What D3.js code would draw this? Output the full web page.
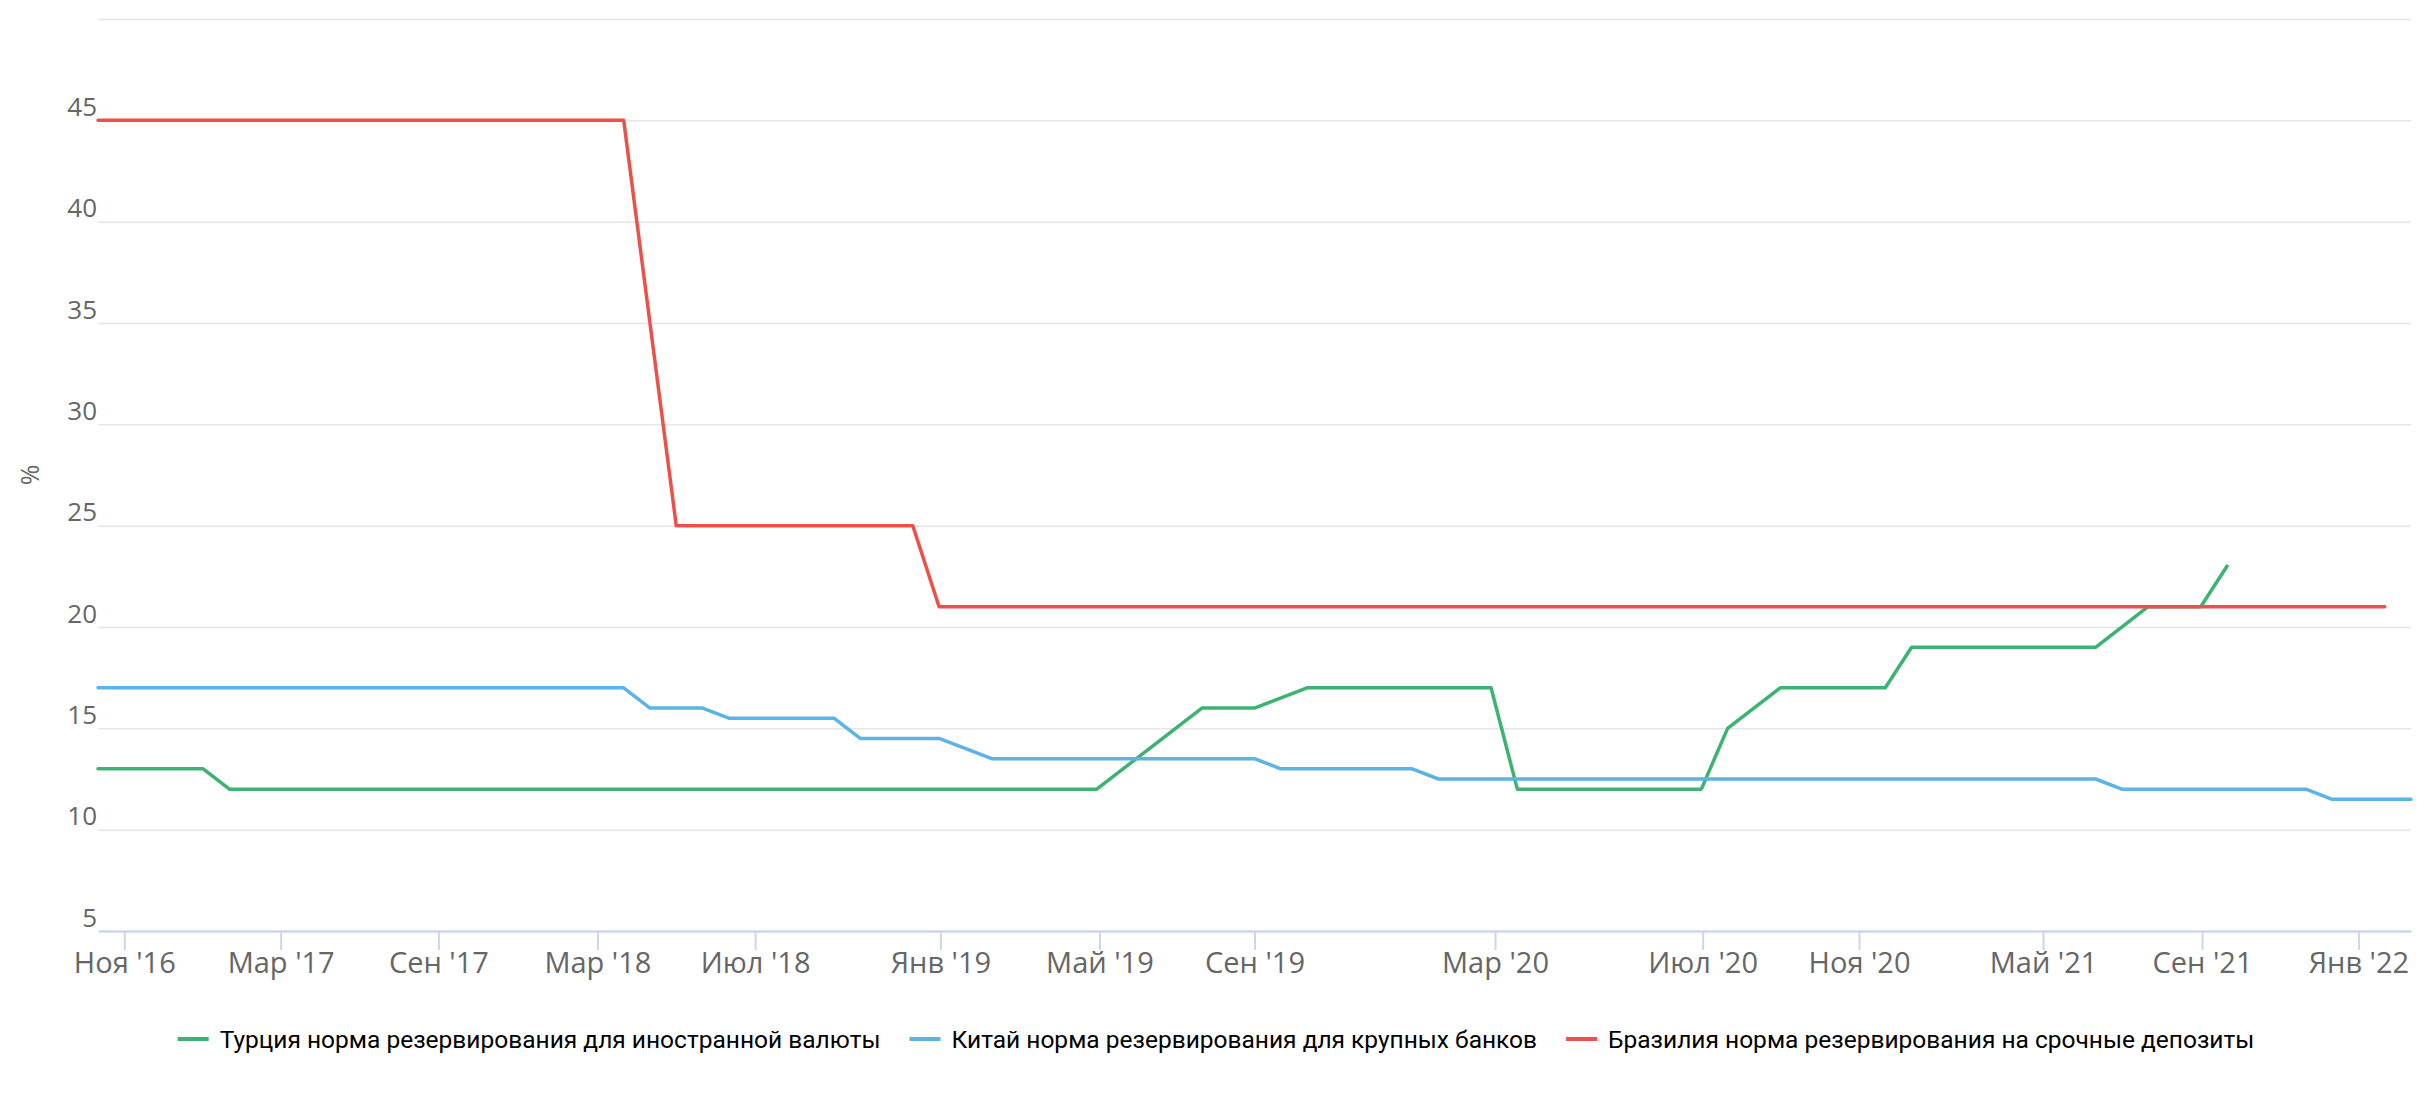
<!DOCTYPE html>
<html>
<head>
<meta charset="utf-8">
<script src="https://cdn.jsdelivr.net/npm/d3@7"></script>
<style>
  html, body { margin: 0; padding: 0; background: #fff; }
  svg { display: block; }
</style>
</head>
<body>
<svg id="chart" width="2432" height="1100"></svg>
<script>
// ---- data (x = position of the observation on the ordinal time axis) ----
const seriesNames = [
  "Турция норма резервирования для иностранной валюты",
  "Китай норма резервирования для крупных банков",
  "Бразилия норма резервирования на срочные депозиты"
];
const turkey = [[0,13],[4,13],[5,12],[38,12],[42,16],[44,16],[46,17],[53,17],[54,12],[61,12],[62,15],[64,17],[68,17],[69,19],[76,19],[78,21],[80,21],[81,23]];
const china  = [[0,17],[20,17],[21,16],[23,16],[24,15.5],[28,15.5],[29,14.5],[32,14.5],[34,13.5],[44,13.5],[45,13],[50,13],[51,12.5],[76,12.5],[77,12],[84,12],[85,11.5],[88,11.5]];
const brazil = [[0,45],[20,45],[22,25],[31,25],[32,21],[87,21]];
const xTickPositions = [1, 6.95, 12.95, 19, 25, 32.05, 38.1, 44, 53.15, 61.05, 67, 74, 80.05, 86];
const xTickLabels = ["Ноя '16","Мар '17","Сен '17","Мар '18","Июл '18","Янв '19","Май '19","Сен '19","Мар '20","Июл '20","Ноя '20","Май '21","Сен '21","Янв '22"];
const yTicks = [5,10,15,20,25,30,35,40,45,50];
const colors = ["#3cb371", "#5bb4e5", "#ec5048"];

// ---- layout ----
const svg = d3.select("#chart");
const plotLeft = 98, plotRight = 2411, plotTop = 19, plotBottom = 931;
const x = d3.scaleLinear().domain([0, 88]).range([plotLeft, plotRight]);
const y = d3.scaleLinear().domain([5, 50]).range([plotBottom, plotTop]);

// gridlines + y labels
const yAxis = d3.axisLeft(y)
  .tickValues(yTicks)
  .tickSize(-(plotRight - plotLeft))
  .tickFormat(d => d === 50 ? "" : d);
const gy = svg.append("g").attr("transform", `translate(${plotLeft},0)`).call(yAxis);
gy.select(".domain").remove();
gy.selectAll(".tick line").attr("stroke", "#e6e6e6").attr("stroke-width", 1.5)
  .filter(d => d === 5).remove();
gy.selectAll(".tick text")
  .attr("x", -1).attr("dy", -5)
  .attr("fill", "#666").attr("font-family", "'Open Sans', sans-serif").attr("font-size", 26);

// x axis
const xAxis = d3.axisBottom(x)
  .tickValues(xTickPositions)
  .tickFormat((d, i) => xTickLabels[i])
  .tickSize(19).tickSizeOuter(0);
const gx = svg.append("g").attr("transform", `translate(0,${plotBottom})`).call(xAxis);
gx.select(".domain").attr("stroke", "#ccd6eb").attr("stroke-width", 2.5);
gx.selectAll(".tick line").attr("stroke", "#ccd6eb").attr("stroke-width", 2);
gx.selectAll(".tick text")
  .attr("y", 42).attr("dy", 0)
  .attr("fill", "#666").attr("font-family", "'Open Sans', sans-serif").attr("font-size", 29);

// y axis title
svg.append("text")
  .attr("transform", `translate(39,${(plotTop + plotBottom) / 2}) rotate(-90)`)
  .attr("text-anchor", "middle")
  .attr("fill", "#666").attr("font-family", "'Open Sans', sans-serif").attr("font-size", 25)
  .text("%");

// lines
const line = d3.line().x(d => x(d[0])).y(d => y(d[1]));
[turkey, china, brazil].forEach((s, i) => {
  svg.append("path")
    .datum(s)
    .attr("d", line)
    .attr("fill", "none")
    .attr("stroke", colors[i])
    .attr("stroke-width", 3.5)
    .attr("stroke-linejoin", "round")
    .attr("stroke-linecap", "round");
});

// legend
const legend = svg.append("g");
let cursor = 0;
seriesNames.forEach((name, i) => {
  const g = legend.append("g");
  g.append("line").attr("x1", 0).attr("x2", 31).attr("y1", 0).attr("y2", 0)
    .attr("stroke", colors[i]).attr("stroke-width", 4);
  const t = g.append("text").attr("x", 42).attr("y", 8.5)
    .attr("fill", "#000").attr("font-family", "Roboto, sans-serif").attr("font-size", 24.5)
    .text(name);
  const w = 42 + t.node().getComputedTextLength();
  g.attr("transform", `translate(${cursor},0)`);
  cursor += w + 29;
});
const totalW = cursor - 29;
legend.attr("transform", `translate(${1216 - totalW / 2},1039)`);
</script>
</body>
</html>
